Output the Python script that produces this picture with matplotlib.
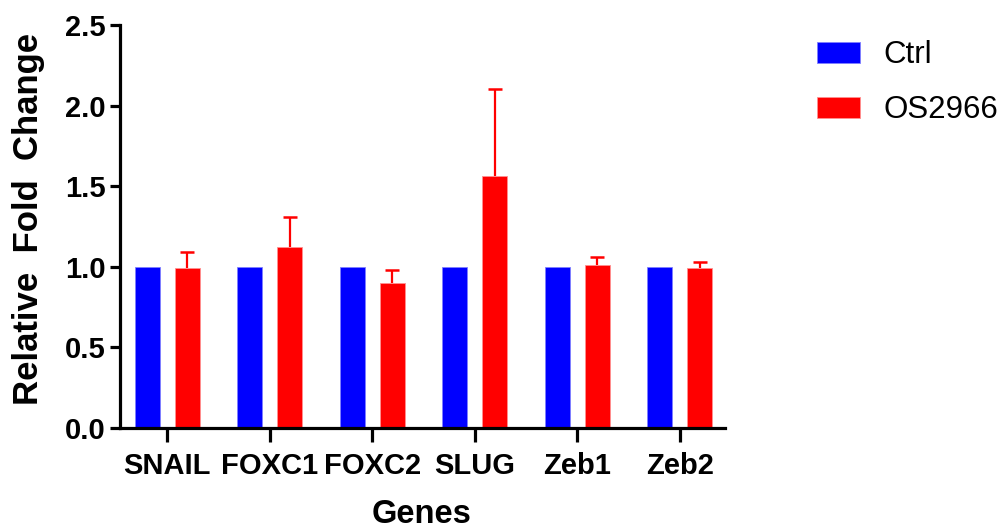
import matplotlib
matplotlib.use('Agg')
import matplotlib.pyplot as plt
import numpy as np

genes = ['SNAIL', 'FOXC1', 'FOXC2', 'SLUG', 'Zeb1', 'Zeb2']
ctrl = [1.0, 1.0, 1.0, 1.0, 1.0, 1.0]
os2966 = [0.99, 1.12, 0.90, 1.56, 1.01, 0.99]
os2966_err = [0.10, 0.19, 0.08, 0.54, 0.05, 0.04]

plt.rcParams['font.family'] = ['Liberation Sans', 'DejaVu Sans']

fig = plt.figure(figsize=(10.08, 5.3), dpi=100)
ax = fig.add_axes([0.119, 0.1925, 0.600, 0.7605])

x = np.arange(len(genes))
w = 0.245
off = 0.195

ax.bar(x - off, ctrl, width=w, color='#0000ff', edgecolor='#8080ff', linewidth=0.6, label='Ctrl')
ax.bar(x + off, os2966, width=w, color='#ff0000', edgecolor='#ff9090', linewidth=0.6, label='OS2966')

# upper error bars only (no cap at the bar top)
tops = np.array(os2966) + np.array(os2966_err)
ax.vlines(x + off, os2966, tops, color='#ff0000', linewidth=1.6)
ax.plot(x + off, tops, linestyle='none', marker='_', markersize=9.5, markeredgewidth=1.8, color='#ff0000')

ax.set_xlim(-0.46, 5.44)
ax.set_ylim(0, 2.5)
ax.set_yticks([0, 0.5, 1.0, 1.5, 2.0, 2.5])
ax.set_yticklabels(['0.0', '0.5', '1.0', '1.5', '2.0', '2.5'])
ax.set_xticks(x)
ax.set_xticklabels(genes)

for s in ['top', 'right']:
    ax.spines[s].set_visible(False)
for s in ['left', 'bottom']:
    ax.spines[s].set_linewidth(2.3)
ax.tick_params(axis='both', width=2.3, labelsize=21)
ax.tick_params(axis='y', length=7, pad=3)
ax.tick_params(axis='x', length=10, pad=7)
for lab in ax.get_xticklabels() + ax.get_yticklabels():
    lab.set_fontweight('bold')

ax.set_ylabel('Relative  Fold  Change', fontsize=25, fontweight='bold')
ax.yaxis.set_label_coords(-0.124, 0.519)
ax.set_xlabel('Genes', fontsize=23.5, fontweight='bold')
ax.xaxis.set_label_coords(0.499, -0.176)

fig.legend(loc='upper left', bbox_to_anchor=(0.8105, 0.924), frameon=False, fontsize=22.5,
           borderpad=0, borderaxespad=0,
           handlelength=1.38, handleheight=0.67, handletextpad=0.75, labelspacing=0.8)

fig.savefig('out.png', dpi=100)
